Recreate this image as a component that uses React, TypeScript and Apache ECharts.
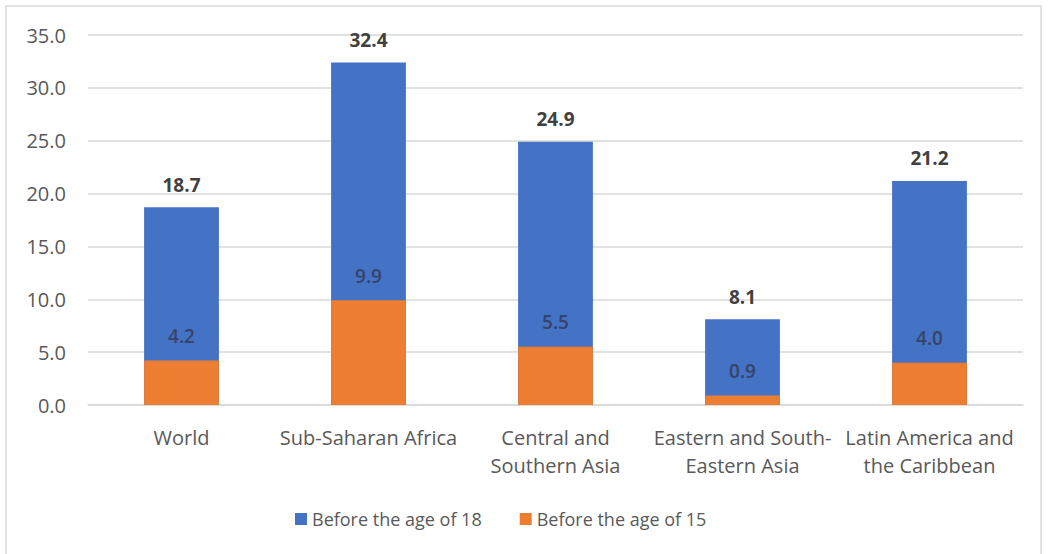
import React, { useEffect, useRef } from "react";
import * as echarts from "echarts";

const categories = [
  "World",
  "Sub-Saharan Africa",
  "Central and\nSouthern Asia",
  "Eastern and South-\nEastern Asia",
  "Latin America and\nthe Caribbean",
];
const before18 = [18.7, 32.4, 24.9, 8.1, 21.2];
const before15 = [4.2, 9.9, 5.5, 0.9, 4.0];
const seriesNames = ["Before the age of 18", "Before the age of 15"];

const FONT = "'Open Sans', sans-serif";

export default function App() {
  const ref = useRef<HTMLDivElement>(null);

  useEffect(() => {
    document.body.style.margin = "0";
    const chart = echarts.init(ref.current!, null, { renderer: "svg" });
    chart.setOption({
      animation: false,
      backgroundColor: "#ffffff",
      textStyle: { fontFamily: FONT },
      graphic: [
        {
          type: "rect",
          shape: { x: 6, y: 6, width: 1035, height: 560 },
          style: { fill: "none", stroke: "#d9d9d9", lineWidth: 1.5 },
          silent: true,
          z: -10,
        },
      ],
      grid: { left: 88, right: 25, top: 35, bottom: 149, containLabel: false },
      legend: {
        data: seriesNames,
        bottom: 21,
        left: 290,
        icon: "rect",
        itemWidth: 12,
        itemHeight: 12,
        itemGap: 38,
        textStyle: { fontSize: 18, color: "#595959", fontFamily: FONT },
      },
      xAxis: {
        type: "category",
        data: categories,
        axisTick: { show: false },
        axisLine: { lineStyle: { color: "#d9d9d9", width: 1.5 } },
        axisLabel: {
          interval: 0,
          fontSize: 20,
          lineHeight: 28,
          color: "#595959",
          margin: 18,
          fontFamily: FONT,
        },
      },
      yAxis: {
        type: "value",
        min: 0,
        max: 35,
        interval: 5,
        axisLine: { show: false },
        axisTick: { show: false },
        splitLine: { lineStyle: { color: "#d9d9d9", width: 1.5 } },
        axisLabel: {
          fontSize: 20,
          color: "#595959",
          margin: 22,
          fontFamily: FONT,
          formatter: (v: number) => v.toFixed(1),
        },
      },
      series: [
        {
          name: seriesNames[0],
          type: "bar",
          data: before18,
          barWidth: "40%",
          barGap: "-100%",
          itemStyle: { color: "#4472C4" },
          label: {
            show: true,
            position: "top",
            distance: 13,
            fontSize: 19,
            fontWeight: "bold",
            color: "#404040",
            fontFamily: FONT,
            formatter: (p: any) => Number(p.value).toFixed(1),
          },
        },
        {
          name: seriesNames[1],
          type: "bar",
          data: before15,
          barWidth: "40%",
          barGap: "-100%",
          itemStyle: { color: "#ED7D31" },
          label: {
            show: true,
            position: "top",
            distance: 15,
            fontSize: 19,
            fontWeight: 600,
            color: "#36446a",
            fontFamily: FONT,
            formatter: (p: any) => Number(p.value).toFixed(1),
          },
        },
      ],
    });
    return () => chart.dispose();
  }, []);

  return <div ref={ref} style={{ width: 1048, height: 554 }} />;
}
